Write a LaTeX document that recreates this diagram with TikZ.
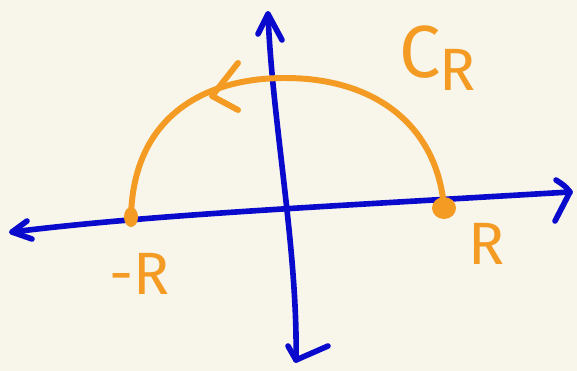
\documentclass[tikz,border=0pt]{standalone}
\usepackage{fontspec}
\setmainfont{Fira Sans}
\definecolor{bg}{HTML}{F8F5EA}
\definecolor{ink}{HTML}{0A0ACC}
\definecolor{org}{HTML}{F49B24}
\begin{document}
\begin{tikzpicture}[x=0.02cm,y=-0.02cm,
  axis/.style={draw=ink,line width=3.2pt,line cap=round,line join=round},
  pen/.style={draw=org,line width=3.4pt,line cap=round,line join=round},
  lbl/.style={text=org,font=\fontsize{34}{34}\selectfont,inner sep=0pt}]
\fill[bg] (0,0) rectangle (577,371);
\useasboundingbox (0,0) rectangle (577,371);
% coordinates
\coordinate (L) at (12,232);
\coordinate (Rt) at (570,192);
\coordinate (T) at (268,14);
\coordinate (B) at (296,360);
\coordinate (mR) at (131,217);
\coordinate (pR) at (444,208);
% horizontal axis
\path[axis] (L) .. controls (150,215) and (300,208) .. (Rt);
\path[axis] (27,221) -- (L) -- (32,239);
\path[axis] (556,180) .. controls (565,186) .. (Rt) -- (555,221);
% vertical axis
\path[axis] (T) .. controls (272,120) and (298,250) .. (B);
\path[axis] (258,34) -- (T) -- (282,40);
\path[axis] (288,346) -- (B) -- (328,346);
% arc C_R
\path[pen] (mR) .. controls (133,120) and (200,78) .. (285,78)
  .. controls (380,78) and (438,130) .. (pR);
% direction chevron
\path[pen] (238,63) -- (212,96) -- (238,110);
% end points
\fill[org] (mR) ellipse (7 and 10);
\fill[org] (pR) ellipse (12 and 11);
% labels
\node[lbl,font=\fontsize{42}{42}\selectfont] (cr) at (420,52) {C};
\node[lbl] (crs) at (458,70) {R};
\node[lbl] (lm) at (140,274) {-R};
\node[lbl] (lr) at (487,244) {R};
\end{tikzpicture}
\end{document}
